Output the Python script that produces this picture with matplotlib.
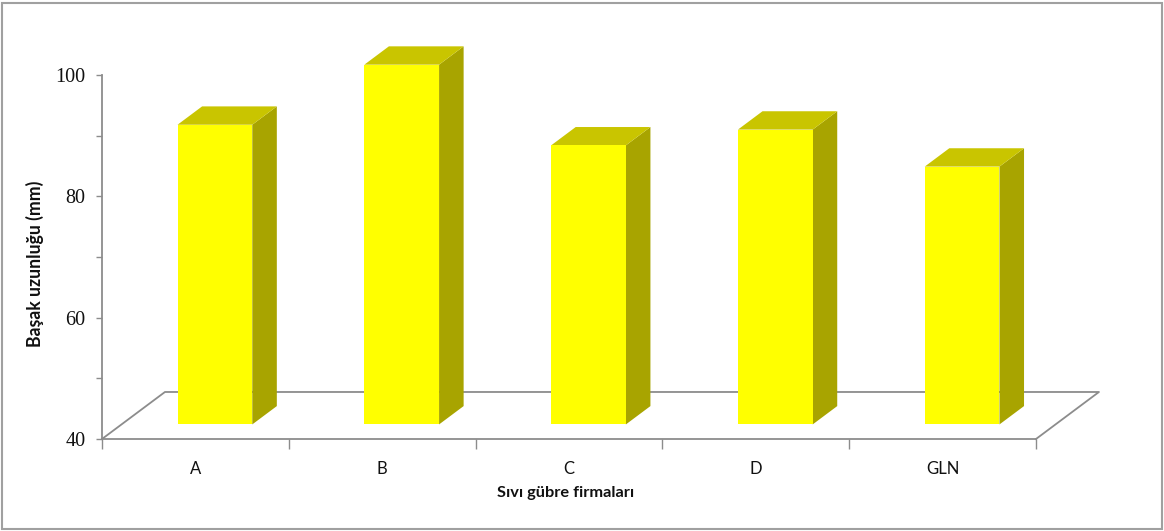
import matplotlib
matplotlib.use("Agg")
import matplotlib.pyplot as plt
from matplotlib.patches import Rectangle, Polygon

# Data
categories = ["A", "B", "C", "D", "GLN"]
values = [89.4, 99.3, 86.0, 88.6, 82.5]
y_ticks = [40, 50, 60, 70, 80, 90, 100]
y_labels = ["40", "", "60", "", "80", "", "100"]
x_title = "Sıvı gübre firmaları"
y_title = "Başak uzunluğu (mm)"

# Styling
FRONT = "#ffff00"
SIDE = "#a8a400"
TOP = "#c9c500"
LINE = "#8c8c8c"
Y_MIN, Y_MAX = 40, 100

# Oblique projection: depth z in [0, 1] shifts points right/up (data units)
DX, DY = 0.337, 7.75
Z0, ZD = 0.31, 0.39      # bar front depth and bar depth
BAR_W = 0.40

W, H = 1164, 531
fig = plt.figure(figsize=(W / 100, H / 100), dpi=100)
ax = fig.add_axes([102 / W, (H - 439) / H, (1036 - 102) / W, (439 - 75) / H])
ax.set_xlim(0, len(categories))
ax.set_ylim(Y_MIN, Y_MAX)
ax.patch.set_alpha(0)


def proj(x, y, z):
    return (x + z * DX, y + z * DY)


n = len(categories)
# floor outline (back and side edges)
floor_back = [proj(0, Y_MIN, 0), proj(0, Y_MIN, 1), proj(n, Y_MIN, 1), proj(n, Y_MIN, 0)]
ax.plot([p[0] for p in floor_back], [p[1] for p in floor_back],
        color=LINE, lw=1.3, zorder=1, clip_on=False)

# bars as three visible faces
for i, v in enumerate(values):
    x0 = i + 0.5 - BAR_W / 2
    x1 = i + 0.5 + BAR_W / 2
    za, zb = Z0, Z0 + ZD
    front = [proj(x0, Y_MIN, za), proj(x1, Y_MIN, za), proj(x1, v, za), proj(x0, v, za)]
    side = [proj(x1, Y_MIN, za), proj(x1, Y_MIN, zb), proj(x1, v, zb), proj(x1, v, za)]
    top = [proj(x0, v, za), proj(x1, v, za), proj(x1, v, zb), proj(x0, v, zb)]
    ax.add_patch(Polygon(side, closed=True, facecolor=SIDE, edgecolor="none",
                         zorder=3, clip_on=False))
    ax.add_patch(Polygon(top, closed=True, facecolor=TOP, edgecolor="none",
                         zorder=3, clip_on=False))
    ax.add_patch(Polygon(front, closed=True, facecolor=FRONT, edgecolor="none",
                         zorder=4, clip_on=False))

# axes styling
for s in ("top", "right"):
    ax.spines[s].set_visible(False)
for s in ("left", "bottom"):
    ax.spines[s].set_color(LINE)
    ax.spines[s].set_linewidth(1.3)
    ax.spines[s].set_zorder(5)

ax.set_yticks(y_ticks)
ax.set_yticklabels(y_labels, family="Liberation Serif", fontsize=14.5, color="#111111")
ax.tick_params(axis="y", direction="out", length=4, width=1, color=LINE, pad=8)

ax.set_xticks(range(n + 1))
ax.set_xticklabels([""] * (n + 1))
ax.tick_params(axis="x", which="major", direction="out", length=7, width=1, color=LINE)
ax.set_xticks([i + 0.5 for i in range(n)], minor=True)
ax.set_xticklabels(categories, minor=True, family="Lato", fontsize=12, color="#111111")
ax.tick_params(axis="x", which="minor", length=0, pad=16)

fig.text(566 / W, 1 - 493 / H, x_title, ha="center", va="center",
         family="Lato", fontweight="bold", fontsize=11.8, color="#111111")
fig.text(35 / W, 1 - 264 / H, y_title, ha="center", va="center", rotation=90,
         family="Lato", fontweight="bold", fontsize=12.7, color="#111111")

# chart border
fig.add_artist(Rectangle((1.5 / W, 2.5 / H), (W - 4) / W, (H - 5) / H,
                         transform=fig.transFigure, fill=False,
                         edgecolor="#a0a0a0", lw=1.5))

fig.savefig("out.png", dpi=100, facecolor="white")
